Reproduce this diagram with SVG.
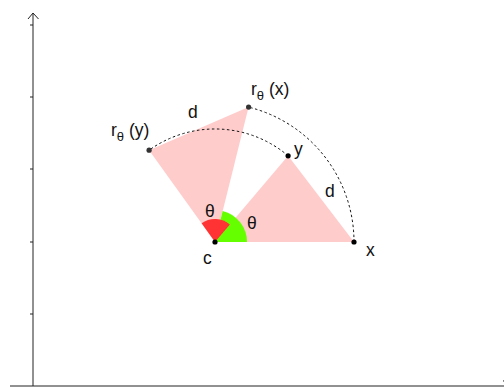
<svg xmlns="http://www.w3.org/2000/svg" width="504" height="387" viewBox="0 0 504 387">
<style>
.axis{stroke:#222;stroke-width:1;fill:none}
.tri{fill:#ffcccc;stroke:none}
.arc{fill:none;stroke:#111;stroke-width:1;stroke-dasharray:2.5,2.5}
.lbl{font-family:"Liberation Sans",Arial,sans-serif;font-size:17.5px;fill:#111}
.sub{font-size:13px}
</style>
<rect width="504" height="387" fill="#fff"/>
<g id="axes">
<path class="axis" d="M33,386 V13 M28,19 L33,13 L38.5,19 M10,386 H504 M30,25 H33 M30,97 H33 M30,169 H33 M30,242 H33 M30,314 H33 M503,380.5 L509,386"/>
</g>
<g id="triangle-xy"><polygon class="tri" points="215,242 354,242 288.1,155.8"/></g>
<g id="triangle-rot"><polygon class="tri" points="215,242 248.6,107.1 149.1,150.2"/></g>
<g id="angle-green"><path d="M215,242 L247,242 A32,32 0 0 0 222.7,211 Z" fill="#66ff00"/></g>
<g id="angle-red"><path d="M215,242 L229.9,224.5 A23,23 0 0 0 201.6,223.3 Z" fill="#ff3333"/></g>
<g id="connectors">
<path class="arc" d="M354,242 A139,139 0 0 0 248.6,107.1"/>
<path class="arc" d="M288.1,155.8 A113,113 0 0 0 149.1,150.2"/>
</g>
<g id="node-c"><circle cx="215" cy="242" r="2.6" fill="#000"/><text class="lbl" x="203" y="264">c</text></g>
<g id="node-x"><circle cx="354" cy="242" r="2.6" fill="#000"/><text class="lbl" x="366" y="256">x</text></g>
<g id="node-y"><circle cx="288.1" cy="155.8" r="2.6" fill="#000"/><text class="lbl" x="294" y="155">y</text></g>
<g id="node-rx"><circle cx="248.6" cy="107.1" r="2.6" fill="#333"/><text class="lbl" x="251" y="95">r<tspan class="sub" dy="5">θ</tspan><tspan dy="-5"> (x)</tspan></text></g>
<g id="node-ry"><circle cx="149.1" cy="150.2" r="2.6" fill="#333"/><text class="lbl" x="111" y="136">r<tspan class="sub" dy="5">θ</tspan><tspan dy="-5"> (y)</tspan></text></g>
<g id="labels">
<text class="lbl" x="188" y="118">d</text>
<text class="lbl" x="325" y="197">d</text>
<text class="lbl" x="205" y="217">θ</text>
<text class="lbl" x="247" y="229">θ</text>
</g>
</svg>
